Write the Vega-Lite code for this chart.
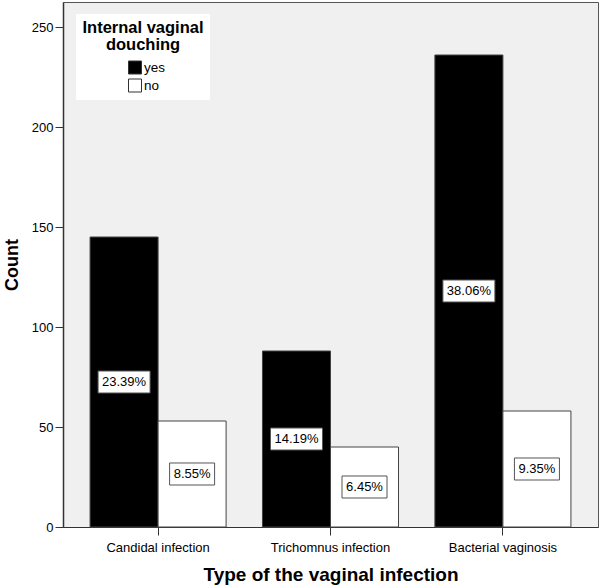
{
  "$schema": "https://vega.github.io/schema/vega-lite/v6.json",
  "width": 535,
  "height": 525,
  "autosize": {"type": "none"},
  "padding": {"left": 63, "top": 2, "right": 2, "bottom": 61},
  "background": "white",
  "config": {
    "font": "Liberation Sans",
    "view": {"fill": "#f0f0f0", "stroke": "#555555", "strokeWidth": 1}
  },
  "data": {
    "values": [
      {"type": "Candidal infection", "douching": "yes", "count": 145, "pct": 0.2339},
      {"type": "Candidal infection", "douching": "no", "count": 53, "pct": 0.0855},
      {"type": "Trichomnus  infection", "douching": "yes", "count": 88, "pct": 0.1419},
      {"type": "Trichomnus  infection", "douching": "no", "count": 40, "pct": 0.0645},
      {"type": "Bacterial vaginosis", "douching": "yes", "count": 236, "pct": 0.3806},
      {"type": "Bacterial vaginosis", "douching": "no", "count": 58, "pct": 0.0935}
    ]
  },
  "encoding": {
    "x": {
      "field": "type",
      "type": "nominal",
      "sort": ["Candidal infection", "Trichomnus  infection", "Bacterial vaginosis"],
      "scale": {"paddingInner": 0.211, "paddingOuter": 0.157},
      "axis": {
        "title": "Type of the vaginal infection",
        "labelAngle": 0,
        "tickSize": 8,
        "labelFontSize": 13,
        "labelPadding": 6,
        "labelColor": "black",
        "titleFontSize": 19,
        "titleFontWeight": "bold",
        "titleColor": "black",
        "titlePadding": 11,
        "domainColor": "#333333",
        "tickColor": "#333333"
      }
    },
    "xOffset": {
      "field": "douching",
      "type": "nominal",
      "sort": ["yes", "no"],
      "scale": {"paddingInner": 0, "paddingOuter": 0}
    }
  },
  "layer": [
    {
      "mark": {"type": "bar", "stroke": "#444444", "strokeWidth": 1},
      "encoding": {
        "y": {
          "field": "count",
          "type": "quantitative",
          "scale": {"domain": [0, 262.5], "nice": false},
          "axis": {
            "title": "Count",
            "values": [0, 50, 100, 150, 200, 250],
            "grid": false,
            "tickSize": 8,
            "labelFontSize": 13,
            "labelPadding": 2,
            "labelColor": "black",
            "titleFontSize": 18,
            "titleFontWeight": "bold",
            "titleColor": "black",
            "titlePadding": 10,
            "domainColor": "#333333",
            "domainWidth": 1.5,
            "tickColor": "#333333"
          }
        },
        "fill": {
          "field": "douching",
          "type": "nominal",
          "scale": {"domain": ["yes", "no"], "range": ["#000000", "#ffffff"]},
          "legend": {
            "title": ["Internal vaginal", "douching"],
            "orient": "none",
            "legendX": 13,
            "legendY": 12,
            "fillColor": "white",
            "padding": 6,
            "titleFontSize": 16.5,
            "titleFontWeight": "bold",
            "titleColor": "black",
            "titleLineHeight": 17,
            "titleAlign": "center",
            "titleAnchor": "middle",
            "titlePadding": 7,
            "labelFontSize": 13.5,
            "labelColor": "black",
            "labelOffset": 2,
            "symbolType": "square",
            "symbolSize": 169,
            "symbolStrokeColor": "#333333",
            "symbolStrokeWidth": 1,
            "symbolOffset": 7,
            "rowPadding": 0
          }
        }
      }
    },
    {
      "transform": [
        {"calculate": "datum.count / 2", "as": "mid"},
        {"filter": "datum.pct >= 0.1"}
      ],
      "mark": {
        "type": "point",
        "shape": "M-1,-0.423H1V0.423H-1Z",
        "size": 2704,
        "filled": true,
        "fill": "white",
        "stroke": "#555555",
        "strokeWidth": 1,
        "opacity": 1
      },
      "encoding": {"y": {"field": "mid", "type": "quantitative"}}
    },
    {
      "transform": [
        {"calculate": "datum.count / 2", "as": "mid"},
        {"filter": "datum.pct < 0.1"}
      ],
      "mark": {
        "type": "point",
        "shape": "M-1,-0.489H1V0.489H-1Z",
        "size": 2025,
        "filled": true,
        "fill": "white",
        "stroke": "#555555",
        "strokeWidth": 1,
        "opacity": 1
      },
      "encoding": {"y": {"field": "mid", "type": "quantitative"}}
    },
    {
      "transform": [{"calculate": "datum.count / 2", "as": "mid"}],
      "mark": {"type": "text", "fontSize": 13, "color": "black"},
      "encoding": {
        "y": {"field": "mid", "type": "quantitative"},
        "text": {"field": "pct", "type": "quantitative", "format": ".2%"}
      }
    }
  ]
}
